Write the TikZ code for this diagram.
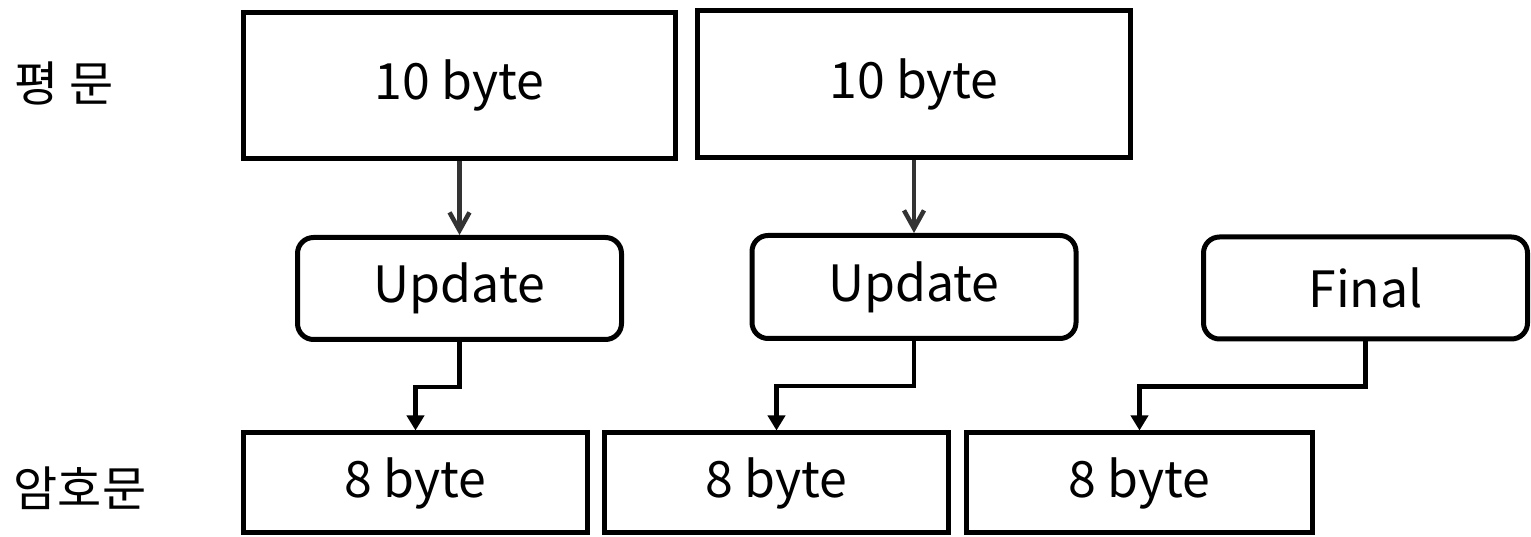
\documentclass[tikz,border=0pt]{standalone}
\usepackage{fontspec}
\setmainfont{Noto Sans CJK KR}
\usetikzlibrary{arrows.meta, positioning, calc}
\tikzstyle{block} = [rectangle, draw=black, line width=5pt, text centered, font=\fontsize{50}{56}\selectfont]
\tikzstyle{func} = [rectangle, rounded corners=16pt, draw=black, line width=5pt, text centered, minimum width=324pt, minimum height=102pt, font=\fontsize{50}{56}\selectfont]
\tikzstyle{label} = [font=\fontsize{48}{54}\selectfont]
\tikzstyle{arrow} = [line width=4.5pt, draw=black!80, -{Straight Barb[length=18pt, width=20pt]}]
\tikzstyle{elbow} = [line width=4.5pt, -{Triangle[length=15pt, width=17pt]}]

\begin{document}
\begin{tikzpicture}[x=1pt, y=1pt]
\useasboundingbox (0,0) rectangle (1531,537);

% Row labels
\node (plainlabel) [label] at (64,454) {평 문};
\node (cipherlabel) [label] at (80,49) {암호문};

% Plaintext blocks
\node (plain1) [block, minimum width=432pt, minimum height=146pt] at (459.5,451.5) {10 byte};
\node (plain2) [block, minimum width=433pt, minimum height=147pt] at (914,453) {10 byte};

% Update / Final
\node (upd1) [func] at (459.5,248.5) {Update};
\node (upd2) [func, minimum height=103pt] at (914,250) {Update};
\node (final) [func] at (1365.5,249) {Final};

% Ciphertext blocks
\node (ct1) [block, minimum width=344pt, minimum height=100pt] at (415.5,54) {8 byte};
\node (ct2) [block, minimum width=344pt, minimum height=100pt, right=12pt of ct1] {8 byte};
\node (ct3) [block, minimum width=346pt, minimum height=100pt, right=13pt of ct2] {8 byte};

% Connections
\draw [arrow] (plain1) -- (upd1);
\draw [arrow] (plain2) -- (upd2);
\draw [elbow] (upd1.south) -- ++(0,-45) -| (ct1.north);
\draw [elbow] (upd2.south) -- ++(0,-45) -| (ct2.north);
\draw [elbow] (final.south) -- ++(0,-45) -| (ct3.north);

\end{tikzpicture}
\end{document}
